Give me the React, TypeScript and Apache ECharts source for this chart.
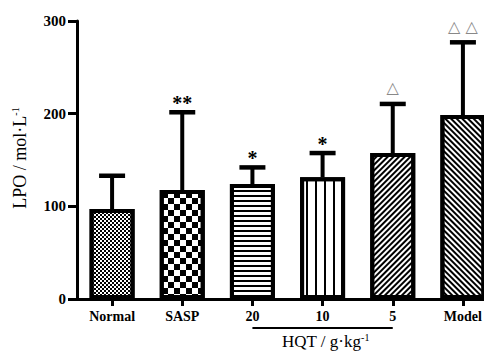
import React, { useEffect, useRef } from 'react';
import * as echarts from 'echarts';

const categories = ['Normal', 'SASP', '20', '10', '5', 'Model'];
const means = [97, 117.5, 124, 131.5, 157.5, 198.5];
const sds = [36, 84, 18, 26, 53, 78.5];
const marks = ['', '**', '*', '*', '△', '△ △'];
const markColors = ['#000', '#000', '#000', '#000', '#888', '#888'];
const yMin = 0;
const yMax = 300;
const yInterval = 100;
const groupLabelText = 'HQT / g·kg';
const yNameText = 'LPO / mol·L';

const SERIF = "'Liberation Serif', 'Times New Roman', serif";

const decals: any[] = [
  { symbol: 'rect', symbolSize: 1, dashArrayX: [[2, 2], [0, 2, 2, 0]], dashArrayY: [2, 0], color: '#000', backgroundColor: '#fff' },
  { symbol: 'rect', symbolSize: 1, dashArrayX: [[5.5, 5.5], [0, 5.5, 5.5, 0]], dashArrayY: [5.5, 0], color: '#000', backgroundColor: '#fff' },
  { symbol: 'rect', symbolSize: 1, dashArrayX: [1, 0], dashArrayY: [1.4, 3], color: '#000', backgroundColor: '#fff' },
  { symbol: 'rect', symbolSize: 1, dashArrayX: [1.5, 6.5], dashArrayY: [1, 0], color: '#000', backgroundColor: '#fff' },
  { symbol: 'rect', symbolSize: 1, dashArrayX: [1, 0], dashArrayY: [1.3, 2], rotation: -Math.PI / 4, color: '#000', backgroundColor: '#fff' },
  { symbol: 'rect', symbolSize: 1, dashArrayX: [1, 0], dashArrayY: [1.3, 2], rotation: Math.PI / 4, color: '#000', backgroundColor: '#fff' },
];

export default function App() {
  const ref = useRef<HTMLDivElement>(null);
  useEffect(() => {
    const chart = echarts.init(ref.current!, null, { renderer: 'svg' });
    const option: any = {
      animation: false,
      backgroundColor: '#fff',
      grid: { left: 77, top: 21, right: 2, bottom: 52, containLabel: false },
      xAxis: {
        type: 'category',
        data: categories,
        axisLine: { show: true, lineStyle: { color: '#000', width: 3 } },
        axisTick: { show: true, alignWithLabel: true, length: 7, lineStyle: { color: '#000', width: 3 } },
        axisLabel: { color: '#000', fontFamily: SERIF, fontWeight: 'bold', fontSize: 14, margin: 10 },
        splitLine: { show: false },
      },
      yAxis: {
        type: 'value',
        min: yMin,
        max: yMax,
        interval: yInterval,
        axisLine: { show: true, lineStyle: { color: '#000', width: 3 } },
        axisTick: { show: true, length: 9, lineStyle: { color: '#000', width: 3 } },
        axisLabel: { color: '#000', fontFamily: SERIF, fontWeight: 'bold', fontSize: 15, margin: 11 },
        splitLine: { show: false },
      },
      series: [
        {
          type: 'bar',
          barWidth: 45,
          itemStyle: { color: '#fff', borderColor: '#000', borderWidth: 4 },
          data: means.map((v, i) => ({ value: v, itemStyle: { decal: decals[i] } })),
          z: 2,
        },
        {
          type: 'custom',
          z: 3,
          data: categories.map((c, i) => [i, means[i], sds[i]]),
          renderItem: (params: any, api: any) => {
            const i = api.value(0);
            const m = api.value(1);
            const s = api.value(2);
            const base = api.coord([i, m]);
            const top = api.coord([i, m + s]);
            const cap = 13;
            const children: any[] = [
              { type: 'line', shape: { x1: base[0], y1: base[1], x2: top[0], y2: top[1] }, style: { stroke: '#000', lineWidth: 4 } },
              { type: 'line', shape: { x1: top[0] - cap, y1: top[1], x2: top[0] + cap, y2: top[1] }, style: { stroke: '#000', lineWidth: 4.5 } },
            ];
            const mk = marks[params.dataIndex];
            if (mk) {
              const isStar = mk.indexOf('*') >= 0;
              children.push({
                type: 'text',
                x: top[0],
                y: isStar ? top[1] + 1 : top[1] - 8,
                style: {
                  text: mk,
                  fill: markColors[params.dataIndex],
                  font: isStar ? `bold 20px ${SERIF}` : `16px 'DejaVu Sans', sans-serif`,
                  align: 'center',
                  verticalAlign: 'bottom',
                },
              });
            }
            return { type: 'group', children };
          },
        },
      ],
    };
    chart.setOption(option);

    const x20 = chart.convertToPixel({ xAxisIndex: 0 }, 2) as number;
    const x5 = chart.convertToPixel({ xAxisIndex: 0 }, 4) as number;
    chart.setOption({
      graphic: [
        {
          type: 'line',
          shape: { x1: x20, y1: 328, x2: x5, y2: 328 },
          style: { stroke: '#000', lineWidth: 2 },
        },
        {
          type: 'text',
          x: (x20 + x5) / 2 + 3,
          y: 332,
          style: {
            text: `{a|${groupLabelText}}{s|-1}`,
            align: 'center',
            verticalAlign: 'top',
            rich: {
              a: { fontFamily: SERIF, fontSize: 17, fill: '#000', lineHeight: 18 },
              s: { fontFamily: SERIF, fontSize: 10, fill: '#000', verticalAlign: 'top', lineHeight: 18 },
            },
          },
        },
        {
          type: 'text',
          x: 20,
          y: 158,
          rotation: Math.PI / 2,
          style: {
            text: `{a|${yNameText}}{s|-1}`,
            align: 'center',
            verticalAlign: 'middle',
            rich: {
              a: { fontFamily: SERIF, fontSize: 18, fill: '#000', lineHeight: 20 },
              s: { fontFamily: SERIF, fontSize: 10, fill: '#000', verticalAlign: 'top', lineHeight: 20 },
            },
          },
        },
      ],
    });
    return () => chart.dispose();
  }, []);
  return (
    <div style={{ position: 'absolute', left: 0, top: 0, width: 484, height: 351, overflow: 'hidden' }}>
      <div ref={ref} style={{ width: 500, height: 351 }} />
    </div>
  );
}
